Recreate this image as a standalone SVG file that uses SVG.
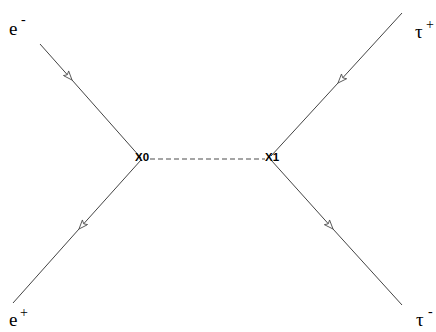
<svg xmlns="http://www.w3.org/2000/svg" width="436" height="332" viewBox="0 0 436 332">
<style>
.f{fill:none;stroke:#444;stroke-width:1;marker-mid:url(#arr)}
.d{stroke:#888;stroke-width:1.5;stroke-dasharray:5 3}
.lbl{font-family:"Liberation Serif",serif;font-size:19px;fill:#000}
.sup{font-family:"Liberation Serif",serif;font-size:14px;fill:#000}
.vx{font-family:"Liberation Sans",sans-serif;font-size:11.5px;font-weight:bold;fill:#000}
</style>
<defs>
<marker id="arr" viewBox="-10 -4 11 8" refX="0" refY="0" markerWidth="11" markerHeight="8" markerUnits="userSpaceOnUse" orient="auto">
<path d="M0,0 L-9,-3.5 L-7,0 L-9,3.5 Z" fill="#fff" stroke="#555" stroke-width="0.9"/>
</marker>
</defs>
<rect width="436" height="332" fill="#fff"/>
<g id="connectors">
<path class="f" d="M40,44 L72,80 L141,158"/>
<path class="f" d="M141,160 L79,229 L13,303"/>
<path class="f" d="M402,13 L338,83 L271,156"/>
<path class="f" d="M271,160 L333,229 L402,305"/>
<line class="d" x1="150" y1="159" x2="265" y2="159"/>
</g>
<g id="x0"><text class="vx" x="135" y="161">X0</text></g>
<g id="x1"><text class="vx" x="265" y="161">X1</text></g>
<g id="em"><text class="lbl" x="9" y="35">e</text><text class="sup" x="21" y="24">-</text></g>
<g id="ep"><text class="lbl" x="9" y="326">e</text><text class="sup" x="20" y="317">+</text></g>
<g id="taup"><text class="lbl" x="415" y="38">τ</text><text class="sup" x="426" y="29">+</text></g>
<g id="taum"><text class="lbl" x="416" y="326">τ</text><text class="sup" x="428" y="316">-</text></g>
</svg>
